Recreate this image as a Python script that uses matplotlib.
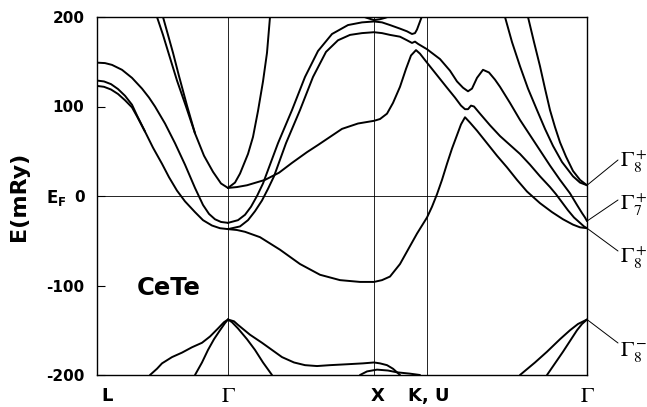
import matplotlib
matplotlib.use('Agg')
import matplotlib.pyplot as plt

# symmetry points along the path (x in arbitrary k units)
k_points = [0, 131, 277, 330, 490]
k_labels = ['L', r'$\Gamma$', 'X', 'K, U', r'$\Gamma$']

# ---- bands above the gap (mRy) ----
band_a_k = [0, 8, 15, 25, 35, 45, 52, 58, 68, 78, 88, 98, 106, 112, 118, 124, 131]
band_a_e = [149, 148.5, 146.5, 141, 132, 120, 110, 100, 81, 59, 35, 9, -10, -20, -26, -29, -30]

band_b_k = [0, 7, 14, 21, 28, 35, 40, 48, 56, 65, 72, 80, 88, 98, 106, 115, 123, 131]
band_b_e = [129, 128, 125, 119.5, 112, 102, 90, 72, 54, 36, 21, 6, -6, -18, -27, -33, -36, -37]

band_c_k = [0, 7, 14, 21, 28, 35, 40, 48]
band_c_e = [123, 122, 119, 114, 107, 99, 89, 72]

steep1_k = [60, 66, 72, 80, 89, 98, 107, 116, 124, 131]
steep1_e = [200, 180, 158, 129, 100, 70, 45, 27, 14, 9]

steep2_k = [66, 71, 76, 82, 90, 98]
steep2_e = [200, 180, 160, 134, 101, 70]

gx_up_k = [131, 138, 143, 151, 156, 161, 166, 170, 173]
gx_up_e = [9, 15, 25, 47, 66, 95, 128, 160, 200]

# band leaving Gamma at ~10, reaching 84 at X, peak near K, down to Gamma8+
band_f_k = [131, 140, 150, 168, 182, 195, 210, 221, 233, 245, 261, 277, 283, 290, 296, 303,
            309, 314, 319, 323, 330, 340, 350, 358, 364, 368, 371, 374, 377, 383, 393, 403,
            413, 423, 433, 443, 453, 459, 465, 471, 477, 483, 487, 490]
band_f_e = [9, 10, 12, 18, 26, 37, 49, 57, 66, 75, 81, 84, 86, 92, 104, 122,
            142, 157, 163, 159, 149, 135, 121, 110, 101, 97, 97, 101, 100, 92, 79, 67,
            57, 47, 35, 22, 10, 2, -7, -16, -24, -30, -34, -36]

band_r1_k = [131, 141, 148, 154, 160, 166, 173, 181, 195, 208, 221, 235, 251, 265, 277,
             285, 293, 303, 310, 315, 318, 320, 322, 324, 326]
band_r1_e = [-30, -27, -21, -12, 0, 14, 35, 59, 96, 133, 162, 181, 191, 194, 195,
             194, 191, 187, 184, 181, 182, 186, 192, 198, 204]

band_r2_k = [131, 143, 151, 158, 165, 171, 177, 189, 203, 216, 229, 241, 253, 265, 277,
             285, 293, 303, 310, 315, 318, 321, 330, 343, 353, 360, 366, 371, 375, 380,
             386, 392, 398, 403, 413, 423, 433, 443, 453, 463, 473, 480, 485, 488, 490]
band_r2_e = [-37, -34, -27, -17, -5, 8, 22, 59, 96, 133, 161, 174, 180, 182, 183,
             182, 180, 178, 174, 171, 172.5, 170, 164, 153, 140, 128, 121, 117, 120, 132,
             141, 138, 130, 122, 104, 85, 68, 51, 34, 18, 3, -10, -19, -24, -28]

band_d_k = [131, 140, 148, 163, 183, 203, 223, 243, 263, 277, 285, 293, 303, 310, 320, 330,
            335, 340, 345, 350, 355, 360, 364, 368, 373, 380, 390, 400, 410, 420, 430, 443,
            455, 466, 476, 483, 490]
band_d_e = [-37, -38, -40, -46, -60, -76, -88, -94, -96, -96, -94, -90, -76, -62, -42, -24,
            -12, 2, 18, 36, 53, 68, 80, 88, 82, 73, 59, 45, 32, 18, 5, -8,
            -18, -26, -32, -35, -36]

kg_steep1_k = [408, 415, 423, 431, 440, 448, 456, 465, 476, 483, 490]
kg_steep1_e = [200, 172, 145, 120, 96, 75, 56, 38, 22, 15, 12]

kg_steep2_k = [431, 437, 443, 448, 453, 458, 463, 469, 476, 483, 490]
kg_steep2_e = [200, 172, 145, 120, 96, 77, 60, 44, 28, 18, 12]

x_cup_k = [265, 270, 277, 283, 288, 293]
x_cup_e = [201, 199, 196.5, 197.5, 199, 201]

# ---- valence bands ----
lg_outer_k = [53, 60, 65, 75, 85, 95, 105, 113, 121, 127, 131]
lg_outer_e = [-200, -193, -187, -180, -175, -169, -164, -157, -148, -141, -138]

lg_inner_k = [98, 105, 111, 117, 123, 128, 131]
lg_inner_e = [-200, -186, -172, -160, -150, -142, -138]

gx_steep_k = [131, 135, 141, 150, 158, 166, 175]
gx_steep_e = [-138, -141, -148, -160, -172, -186, -200]

gx_flat_k = [131, 137, 141, 153, 165, 175, 185, 197, 208, 220, 233, 250, 266, 277, 283,
             290, 296, 301, 303]
gx_flat_e = [-138, -140, -144, -155, -164, -172, -180, -186, -189, -190, -189, -188, -187,
             -186, -187, -189, -193, -198, -200]

x_arc_k = [263, 270, 280, 291, 300, 313, 323]
x_arc_e = [-200, -196, -194, -195, -197, -198.5, -200]

kg_outer_k = [423, 438, 450, 463, 473, 481, 490]
kg_outer_e = [-200, -186, -174, -160, -150, -143, -138]

kg_inner_k = [450, 458, 466, 473, 480, 485, 490]
kg_inner_e = [-200, -187, -174, -162, -150, -143, -138]

# levels at the right Gamma point and their labels
gamma_levels = [12, -28, -36, -138]
gamma_names = [r'$\Gamma_8^+$', r'$\Gamma_7^+$', r'$\Gamma_8^+$', r'$\Gamma_8^-$']

bands = [
    (band_a_k, band_a_e), (band_b_k, band_b_e), (band_c_k, band_c_e),
    (steep1_k, steep1_e), (steep2_k, steep2_e), (gx_up_k, gx_up_e),
    (band_f_k, band_f_e), (band_r1_k, band_r1_e), (band_r2_k, band_r2_e),
    (band_d_k, band_d_e), (kg_steep1_k, kg_steep1_e), (kg_steep2_k, kg_steep2_e),
    (x_cup_k, x_cup_e),
    (lg_outer_k, lg_outer_e), (lg_inner_k, lg_inner_e), (gx_steep_k, gx_steep_e),
    (gx_flat_k, gx_flat_e), (x_arc_k, x_arc_e), (kg_outer_k, kg_outer_e),
    (kg_inner_k, kg_inner_e),
]

W, H = 647, 407
plt.rcParams['mathtext.fontset'] = 'stix'


def fpos(px, py):
    # pixel position (from top-left) -> figure fraction
    return px / W, 1 - py / H


fig = plt.figure(figsize=(W / 100, H / 100), dpi=100)
ax = fig.add_axes([97 / W, 1 - 375 / H, (587 - 97) / W, (375 - 17) / H])

for k, e in bands:
    ax.plot(k, e, color='black', lw=1.4, solid_joinstyle='round', solid_capstyle='round')

# symmetry lines and Fermi level
for kp in k_points[1:-1]:
    ax.axvline(kp, color='black', lw=0.6)
ax.axhline(0, color='black', lw=0.6)

ax.set_xlim(k_points[0], k_points[-1])
ax.set_ylim(-200, 200)
ax.set_xticks([])
ax.set_yticks([-200, -100, 0, 100, 200])
ax.set_yticklabels(['-200', '-100', '0', '100', '200'], fontweight='bold', fontsize=11)
ax.tick_params(axis='y', direction='in', length=6, width=0.8, pad=9)
for s in ax.spines.values():
    s.set_linewidth(1.0)

# k-point labels under the axis
label_px = [107, 228, 378, 429, 587]
for lab, px in zip(k_labels, label_px):
    if 'Gamma' in lab:
        fig.text(*fpos(px, 396), lab, ha='center', va='center', fontsize=16)
    else:
        fig.text(*fpos(px, 396), lab, ha='center', va='center', fontsize=13, fontweight='bold')

fig.text(*fpos(19, 196), 'E(mRy)', rotation=90, ha='center', va='center',
         fontsize=16, fontweight='bold')
fig.text(*fpos(46, 203), r'$\mathbf{E}_{\mathbf{F}}$', ha='left', va='baseline',
         fontsize=12, fontfamily='DejaVu Sans', math_fontfamily='dejavusans')
fig.text(*fpos(137, 288), 'CeTe', ha='left', va='center', fontsize=17.5, fontweight='bold')

# labels of the levels at Gamma, with leader lines
label_py = [162, 205, 258, 352]
line_py = [160, 200, 251, 343]
for lev, name, ty, ly in zip(gamma_levels, gamma_names, label_py, line_py):
    ax.annotate('', xy=(k_points[-1], lev), xycoords='data',
                xytext=(618, H - ly), textcoords='figure pixels',
                arrowprops=dict(arrowstyle='-', lw=0.7, color='black', shrinkA=0, shrinkB=0))
    fig.text(*fpos(620, ty), name, ha='left', va='center', fontsize=16)

fig.savefig('out.png', dpi=100)
